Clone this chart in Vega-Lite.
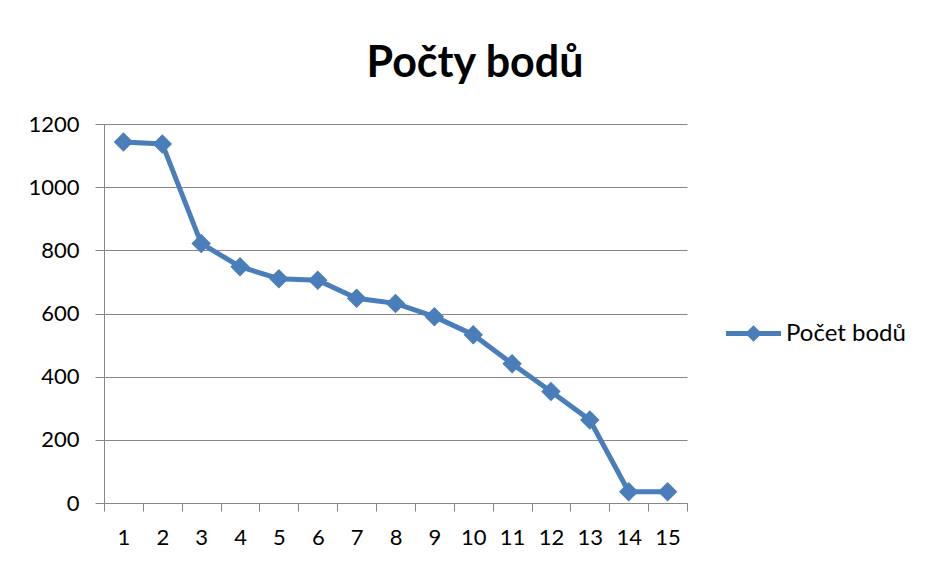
{
  "$schema": "https://vega.github.io/schema/vega-lite/v6.json",
  "width": 583,
  "height": 379,
  "padding": {"left": 27, "top": 43, "right": 10, "bottom": 10},
  "background": "white",
  "title": {
    "text": "Počty bodů",
    "font": "Lato",
    "fontSize": 43,
    "fontWeight": "bold",
    "color": "#000000",
    "anchor": "middle",
    "frame": "bounds",
    "dx": 8,
    "offset": 27
  },
  "data": {
    "values": [
      {"bod": 1, "pocet": 1143, "serie": "Počet bodů"},
      {"bod": 2, "pocet": 1137, "serie": "Počet bodů"},
      {"bod": 3, "pocet": 822, "serie": "Počet bodů"},
      {"bod": 4, "pocet": 748, "serie": "Počet bodů"},
      {"bod": 5, "pocet": 710, "serie": "Počet bodů"},
      {"bod": 6, "pocet": 705, "serie": "Počet bodů"},
      {"bod": 7, "pocet": 648, "serie": "Počet bodů"},
      {"bod": 8, "pocet": 632, "serie": "Počet bodů"},
      {"bod": 9, "pocet": 590, "serie": "Počet bodů"},
      {"bod": 10, "pocet": 533, "serie": "Počet bodů"},
      {"bod": 11, "pocet": 441, "serie": "Počet bodů"},
      {"bod": 12, "pocet": 353, "serie": "Počet bodů"},
      {"bod": 13, "pocet": 263, "serie": "Počet bodů"},
      {"bod": 14, "pocet": 36, "serie": "Počet bodů"},
      {"bod": 15, "pocet": 36, "serie": "Počet bodů"}
    ]
  },
  "mark": {
    "type": "line",
    "strokeWidth": 5,
    "point": {"shape": "diamond", "size": 380, "filled": true}
  },
  "encoding": {
    "x": {
      "field": "bod",
      "type": "ordinal",
      "bandPosition": 0.5,
      "scale": {"type": "band", "paddingInner": 0, "paddingOuter": 0},
      "axis": {
        "title": null,
        "labelAngle": 0,
        "tickBand": "extent",
        "grid": false,
        "domainColor": "#878787",
        "tickColor": "#878787",
        "tickSize": 8,
        "labelFont": "Lato",
        "labelFontSize": 22,
        "labelColor": "#000000",
        "labelPadding": 16
      }
    },
    "y": {
      "field": "pocet",
      "type": "quantitative",
      "scale": {"domain": [0, 1200], "nice": false},
      "axis": {
        "title": null,
        "values": [0, 200, 400, 600, 800, 1000, 1200],
        "format": "d",
        "grid": true,
        "gridColor": "#878787",
        "gridWidth": 1,
        "domainColor": "#878787",
        "tickColor": "#878787",
        "tickSize": 9,
        "labelFont": "Lato",
        "labelFontSize": 22,
        "labelColor": "#000000",
        "labelPadding": 16
      }
    },
    "color": {
      "field": "serie",
      "type": "nominal",
      "scale": {"range": ["#4A7EBB"]},
      "legend": {
        "title": null,
        "orient": "none",
        "legendX": 622,
        "legendY": 182,
        "padding": 0,
        "symbolType": "M-1,-0.09L-0.21,-0.09L0,-0.3L0.21,-0.09L1,-0.09L1,0.09L0.21,0.09L0,0.3L-0.21,0.09L-1,0.09Z",
        "symbolSize": 3025,
        "symbolStrokeWidth": 0,
        "labelFont": "Lato",
        "labelFontSize": 24,
        "labelColor": "#000000",
        "labelOffset": 5,
        "encode": {"symbols": {"update": {"fill": {"value": "#4A7EBB"}, "stroke": {"value": "#4A7EBB"}}}}
      }
    }
  },
  "config": {"view": {"stroke": null}}
}
